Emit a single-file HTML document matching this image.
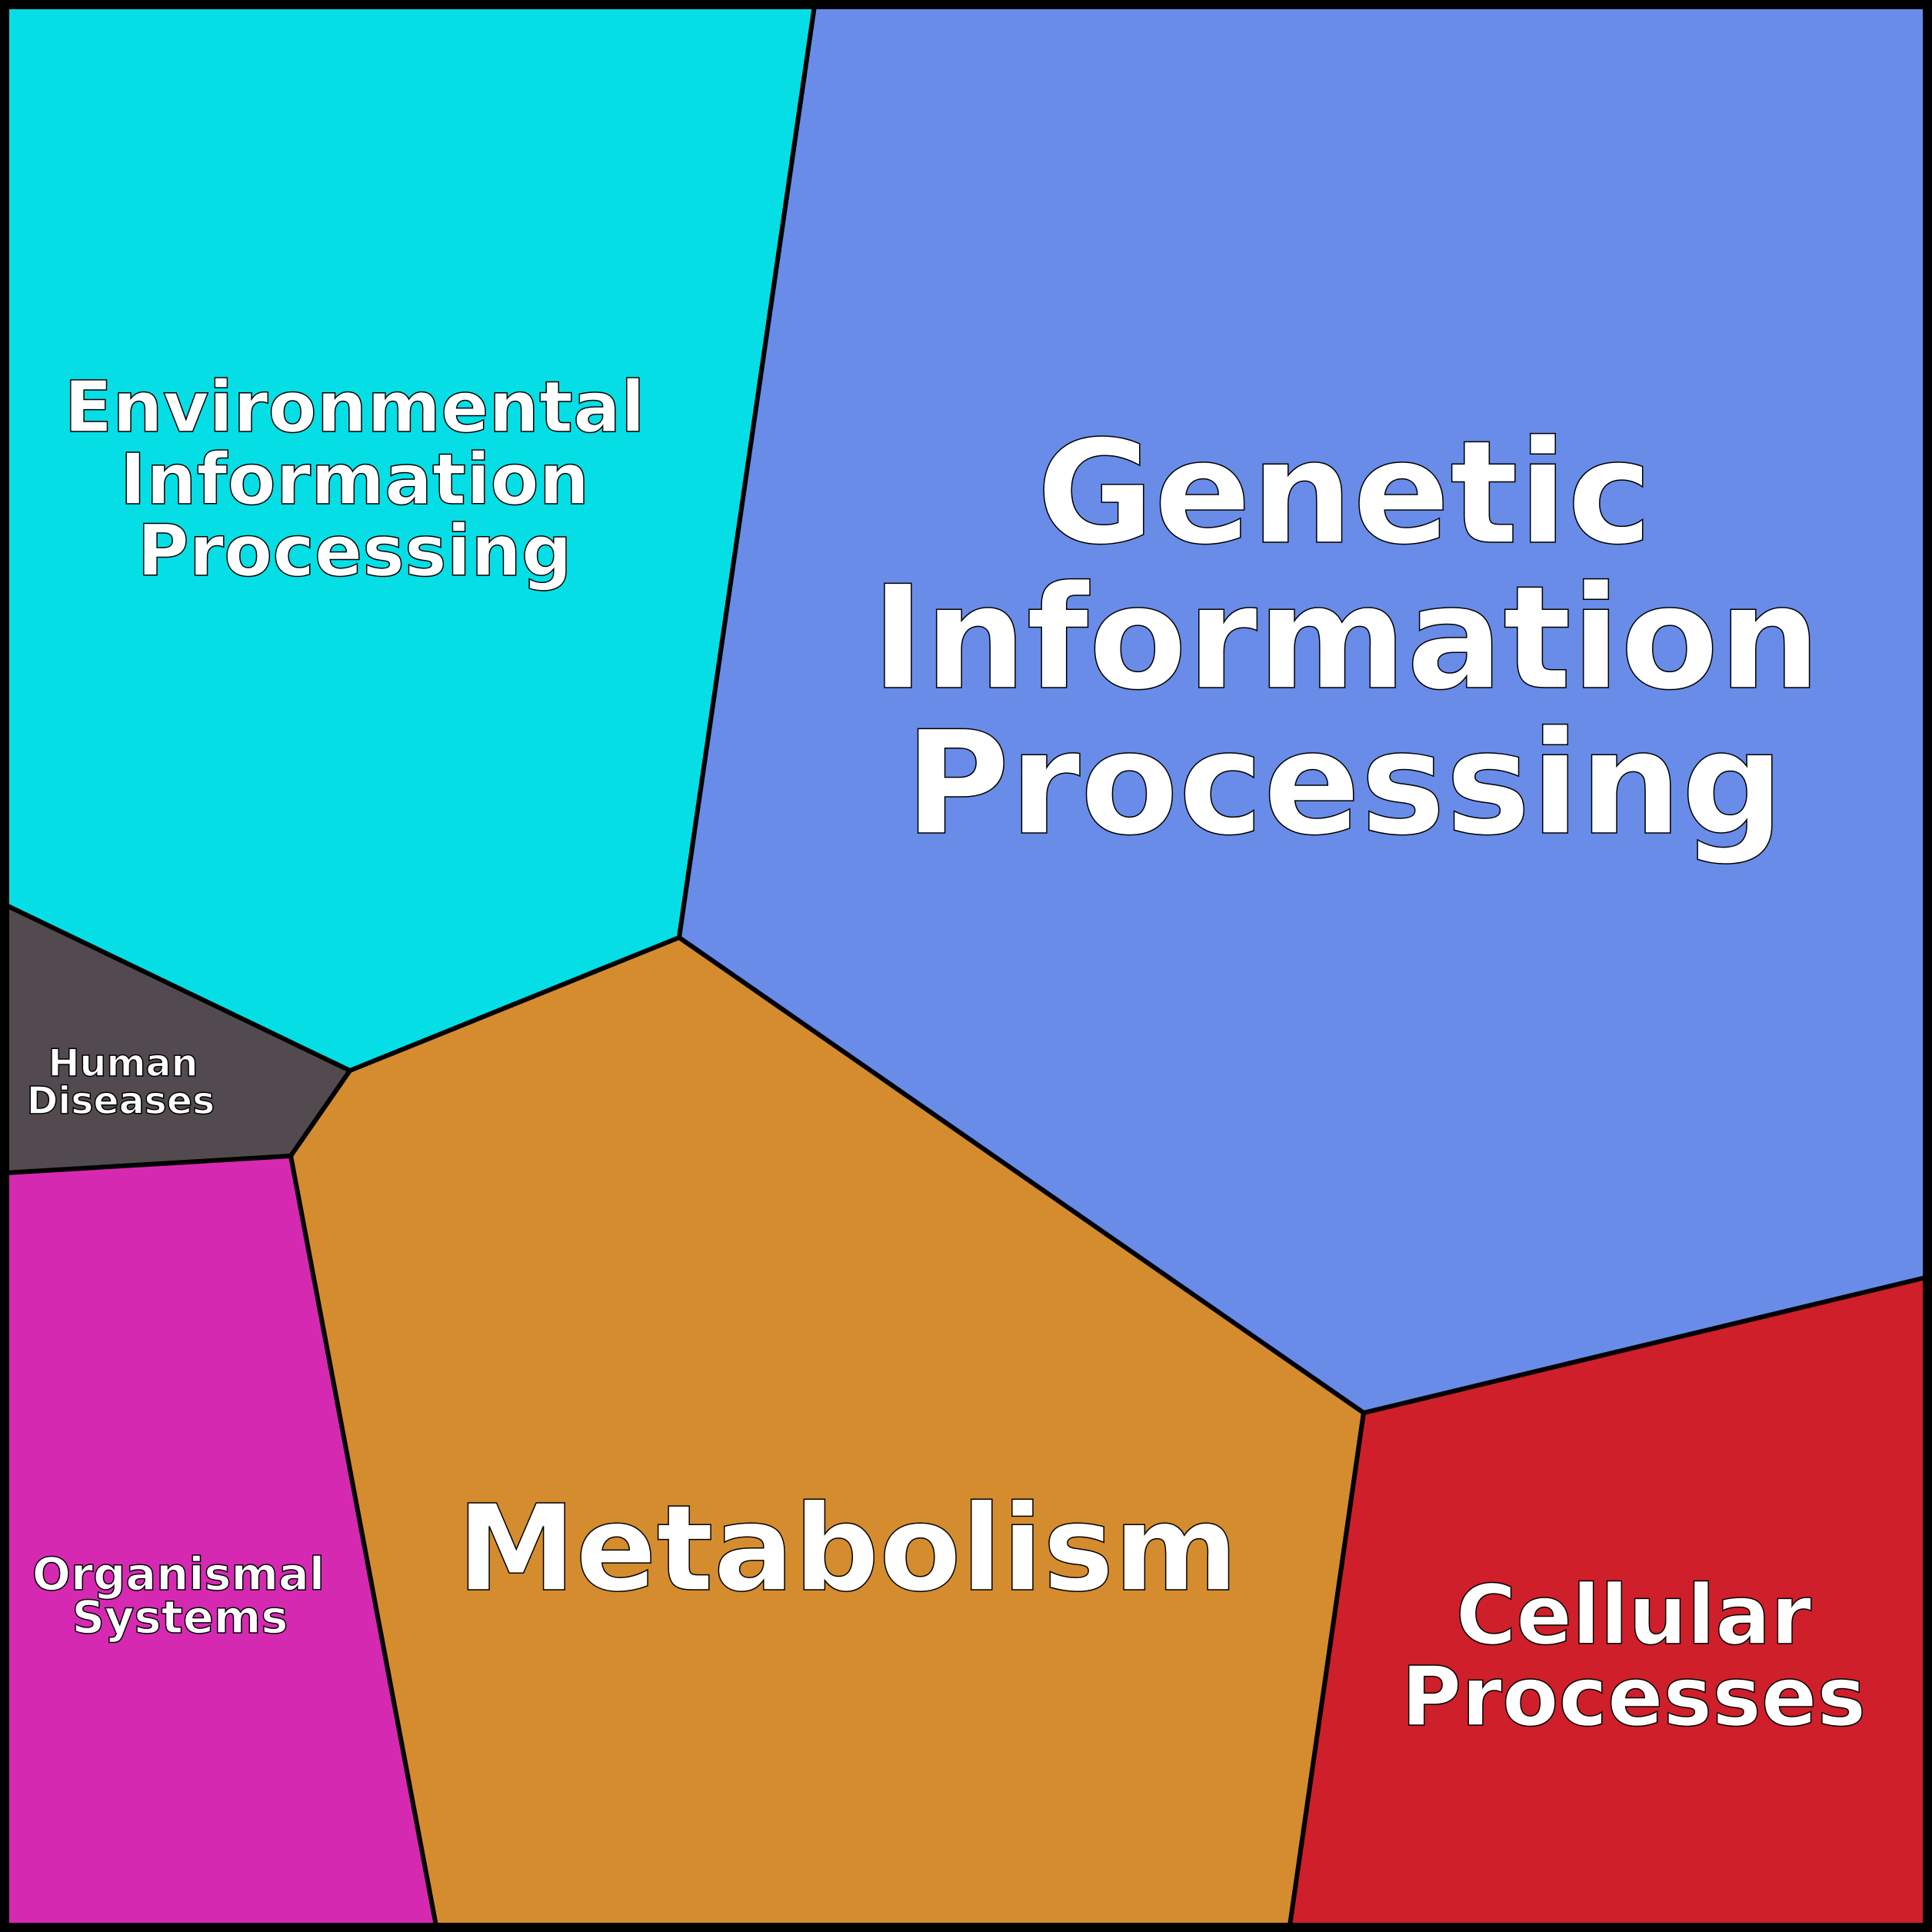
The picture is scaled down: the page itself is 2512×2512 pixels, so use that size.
<!DOCTYPE html>
<html><head><meta charset="utf-8"><style>html,body{margin:0;padding:0;background:#fff}svg{display:block}</style></head>
<body>
<svg width="2512" height="2512" viewBox="0 0 2512 2512" xmlns="http://www.w3.org/2000/svg">
<g stroke="#000" stroke-width="6" stroke-linejoin="round">
<polygon points="8,8 1059,8 883,1219 455,1392 8,1177" fill="#05DEE5"/>
<polygon points="1059,8 2504,8 2504,1661 1773,1837 883,1219" fill="#688CE8"/>
<polygon points="8,1177 455,1392 378,1503 8,1525" fill="#524A4F"/>
<polygon points="455,1392 883,1219 1773,1837 1677,2504 567,2504 378,1503" fill="#D48C2E"/>
<polygon points="8,1525 378,1503 567,2504 8,2504" fill="#D629B2"/>
<polygon points="1773,1837 2504,1661 2504,2504 1677,2504" fill="#CE1F2A"/>
</g>
<rect x="6" y="6" width="2500" height="2500" fill="none" stroke="#000" stroke-width="12"/>
<g font-family="'DejaVu Sans','Liberation Sans',sans-serif" font-weight="bold" fill="#fff" stroke="#000" stroke-width="1.5" text-anchor="middle">
<g font-size="186"><text x="1748" y="705">Genetic</text><text x="1750" y="894">Information</text><text x="1748" y="1083">Processing</text></g>
<g font-size="92"><text x="461" y="561">Environmental</text><text x="461" y="655">Information</text><text x="461" y="748">Processing</text></g>
<g font-size="49"><text x="160" y="1399">Human</text><text x="157" y="1448">Diseases</text></g>
<g font-size="59"><text x="232" y="2067">Organismal</text><text x="234" y="2123">Systems</text></g>
<text x="1102" y="2067" font-size="155">Metabolism</text>
<g font-size="107"><text x="2124" y="2137">Cellular</text><text x="2124" y="2243">Processes</text></g>
</g>
</svg>
</body></html>
